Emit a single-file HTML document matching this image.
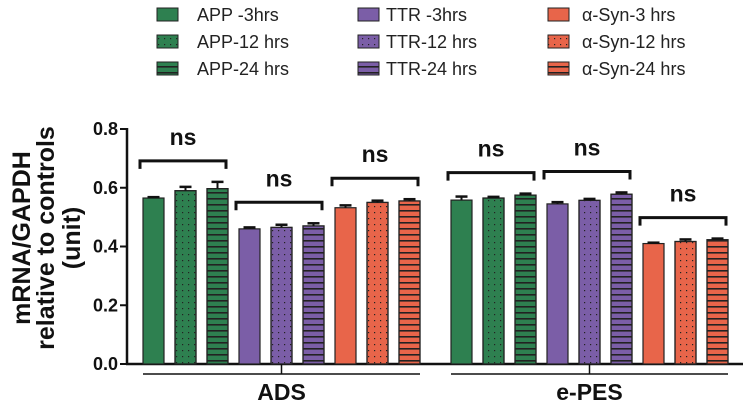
<!DOCTYPE html>
<html><head><meta charset="utf-8"><style>
body{margin:0;background:#fff;}
svg{display:block;font-family:"Liberation Sans",Arial,sans-serif;}
</style></head><body>
<svg id="chart" width="749" height="405" viewBox="0 0 749 405" xmlns="http://www.w3.org/2000/svg">
<defs>
<pattern id="dots" width="6" height="6" patternUnits="userSpaceOnUse"><rect x="2" y="2" width="1.2" height="1.2" fill="#222"/></pattern>
<pattern id="stripes" width="6" height="6" patternUnits="userSpaceOnUse"><rect x="0" y="0" width="6" height="1.6" fill="#222"/></pattern>
</defs>
<g id="legend"></g>
<g id="yaxis"></g>
<g id="bars"></g>
<g id="annot"></g>
<g font-weight="bold" font-size="25" text-anchor="middle" fill="#111">
<text transform="translate(30,238) rotate(-90)">mRNA/GAPDH</text>
<text transform="translate(54,238) rotate(-90)">relative to controls</text>
<text transform="translate(80,238) rotate(-90)">(unit)</text>
</g>
</svg>
<script>
const groups = ["ADS", "e-PES"];
const seriesNames = ["APP -3hrs","APP-12 hrs","APP-24 hrs","TTR -3hrs","TTR-12 hrs","TTR-24 hrs","α-Syn-3 hrs","α-Syn-12 hrs","α-Syn-24 hrs"];
const adsValues = [0.565, 0.59, 0.597, 0.46, 0.465, 0.47, 0.532, 0.55, 0.555];
const adsErrors = [0.003, 0.013, 0.023, 0.005, 0.009, 0.009, 0.008, 0.006, 0.006];
const epesValues = [0.558, 0.565, 0.575, 0.545, 0.557, 0.578, 0.41, 0.417, 0.423];
const epesErrors = [0.012, 0.004, 0.005, 0.006, 0.005, 0.006, 0.003, 0.007, 0.004];
const yTicks = [0.0, 0.2, 0.4, 0.6, 0.8];
const yTickLabels = ["0.0","0.2","0.4","0.6","0.8"];

const NS="http://www.w3.org/2000/svg";
const colors=["#2e8050","#7b5ea7","#e8654a"];
const fills=[null,"url(#dots)","url(#stripes)"];
const y0=364, yTop=129, yMax=0.8;
function yScale(v){return y0-(v/yMax)*(y0-yTop);}
const groupStart=[143,451], pitch=32, bw=21;
function xBar(g,i){return groupStart[g]+i*pitch;}
function mk(tag,attrs,parent){const e=document.createElementNS(NS,tag);for(const k in attrs)e.setAttribute(k,attrs[k]);parent.appendChild(e);return e;}

// legend
const leg=document.getElementById('legend');
const legX=[157,358,548], legTX=[197,386,582], legY=[15,42,69];
seriesNames.forEach((n,i)=>{
  const c=Math.floor(i/3), r=i%3;
  const g=mk('g',{},leg);
  
  
  mk('rect',{x:legX[c],y:legY[r]-7,width:21,height:13,fill:colors[c],stroke:'#222','stroke-width':1},g);
  if(fills[r]) mk('rect',{x:legX[c],y:legY[r]-7,width:21,height:13,fill:fills[r],stroke:'#222','stroke-width':1},g);
  const t=mk('text',{x:legTX[c],y:legY[r]+6,'font-size':18,fill:'#222'},g);
  t.textContent=n;
});

// y axis
const ya=document.getElementById('yaxis');
mk('line',{x1:127,y1:yTop-1,x2:127,y2:y0+1,stroke:'#111','stroke-width':2.5},ya);
mk('line',{x1:126,y1:y0,x2:743,y2:y0,stroke:'#111','stroke-width':2.5},ya);
yTicks.forEach((v,i)=>{
  const yy=yScale(v);
  mk('line',{x1:120,y1:yy,x2:127,y2:yy,stroke:'#111','stroke-width':2},ya);
  const t=mk('text',{x:118,y:yy+6,'font-size':18,'font-weight':'bold','text-anchor':'end',fill:'#111'},ya);
  
  
  t.textContent=yTickLabels[i];
});

// bars
const bars=document.getElementById('bars');
const data=[[adsValues,adsErrors],[epesValues,epesErrors]];
data.forEach(([vals,errs],g)=>{
  vals.forEach((v,i)=>{
    const x=xBar(g,i), yy=yScale(v), c=Math.floor(i/3), p=i%3;
    const b=mk('g',{},bars);
    
    
    mk('rect',{x:x,y:yy,width:bw,height:y0-yy,fill:colors[c],stroke:'#222','stroke-width':1.2},b);
    if(fills[p]) mk('rect',{x:x,y:yy,width:bw,height:y0-yy,fill:fills[p],stroke:'#222','stroke-width':1.2},b);
    const ye=yScale(v+errs[i]);
    mk('line',{x1:x+bw/2,y1:yy,x2:x+bw/2,y2:ye,stroke:'#111','stroke-width':2},b);
    mk('line',{x1:x+bw/2-6,y1:ye,x2:x+bw/2+6,y2:ye,stroke:'#111','stroke-width':2.5},b);
  });
  const x1=xBar(g,0), x2=xBar(g,8)+bw, mid=(x1+x2)/2;
  mk('line',{x1:x1,y1:374,x2:x2,y2:374,stroke:'#111','stroke-width':1.5},bars);
  mk('line',{x1:mid,y1:y0,x2:mid,y2:374,stroke:'#111','stroke-width':1.5},bars);
  const t=mk('text',{x:mid,y:400,'font-size':23,'font-weight':'bold','text-anchor':'middle',fill:'#111'},bars);
  
  
  t.textContent=groups[g];
});

// significance brackets
const an=document.getElementById('annot');
data.forEach(([vals,errs],g)=>{
  for(let k=0;k<3;k++){
    let m=0; for(let j=0;j<3;j++){m=Math.max(m,vals[k*3+j]+errs[k*3+j]);}
    const by=yScale(m)-21;
    const x1=xBar(g,k*3)-3, x2=xBar(g,k*3+2)+bw-2;
    const br=mk('path',{d:`M${x1},${by+8} L${x1},${by} L${x2},${by} L${x2},${by+8}`,fill:'none',stroke:'#111','stroke-width':3},an);
    
    
    const t=mk('text',{x:(x1+x2)/2,y:by-16,'font-size':23,'font-weight':'bold','text-anchor':'middle',fill:'#111'},an);
    
    
    t.textContent='ns';
  }
});
</script>
</body></html>
